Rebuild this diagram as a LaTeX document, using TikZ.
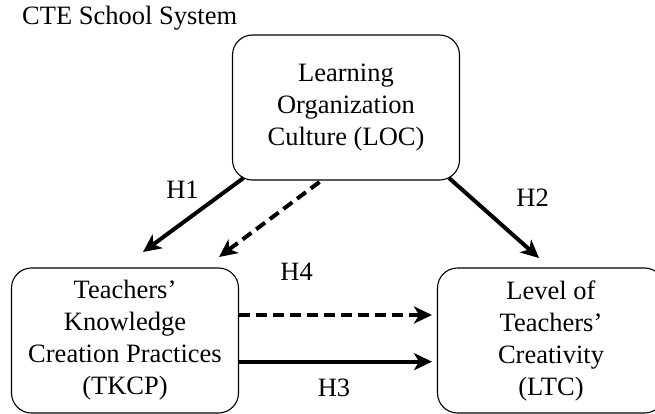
\documentclass[tikz,border=0pt]{standalone}
\usepackage{fontspec}
\setmainfont{Liberation Serif}
\usetikzlibrary{arrows.meta}
\begin{document}
\begin{tikzpicture}[x=1pt,y=-1pt,
  box/.style={draw,line width=1.1pt,rounded corners=20pt,minimum width=227pt,minimum height=145pt,align=center,inner sep=0pt,font=\fontsize{26.5}{32}\selectfont},
  lbl/.style={font=\fontsize{26.5}{30}\selectfont,inner sep=0pt},
  arr/.style={line width=4pt,-{Stealth[length=18pt,width=17pt,inset=5pt]}},
  dsh/.style={arr,dash pattern=on 11pt off 6pt}]
\useasboundingbox (0,0) rectangle (655,414);
\node[lbl,anchor=base west] (title) at (22,25) {CTE School System};
\node[box] (loc) at (346,107.5) {Learning\\Organization\\Culture (LOC)};
\node[box] (tkcp) at (125,340.5) {Teachers'\\Knowledge\\Creation Practices\\(TKCP)};
\node[box] (ltc) at (551,340.5) {Level of\\Teachers'\\Creativity\\(LTC)};
\coordinate (h1s) at (243.5,178);
\coordinate (h1e) at (143,252);
\coordinate (h5s) at (319.5,182);
\coordinate (h5e) at (219,257);
\coordinate (h2s) at (449,178);
\coordinate (h2e) at (539,258);
\coordinate (h4e) at (432,315);
\coordinate (h3e) at (432,361.7);
\draw[arr] (h1s) -- (h1e);
\draw[dsh] (h5s) -- (h5e);
\draw[arr] (h2s) -- (h2e);
\draw[dsh] (tkcp.east |- h4e) -- (h4e);
\draw[arr] (tkcp.east |- h3e) -- (h3e);
\node[lbl] (H1) at (182.5,190) {H1};
\node[lbl] (H2) at (532.6,198) {H2};
\node[lbl] (H4) at (296.6,271.7) {H4};
\node[lbl] (H3) at (334,388) {H3};
\end{tikzpicture}
\end{document}
